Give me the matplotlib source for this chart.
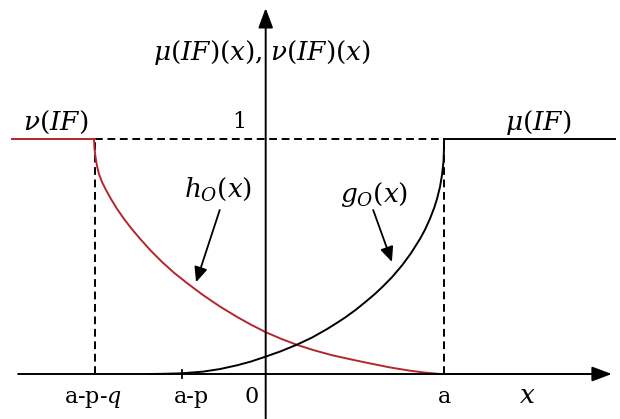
import matplotlib
matplotlib.use('Agg')
import matplotlib.pyplot as plt

plt.rcParams['mathtext.fontset'] = 'dejavuserif'
plt.rcParams['font.family'] = 'DejaVu Serif'

# --- key points on the x axis ---
x_apq = -3.83   # a-p-q
x_ap = -1.88    # a-p
x_a = 4.0       # a

# nu(IF): non-membership, h_O(x) branch between a-p-q and a
h_x = [-3.850, -3.839, -3.816, -3.782, -3.738, -3.670, -3.581, -3.469,
       -3.334, -3.177, -2.998, -2.796, -2.572, -2.325, -2.056, -1.765,
       -1.406, -1.025, -0.643, -0.330, 0.0, 0.343, 0.702, 1.083, 1.487,
       1.890, 2.339, 2.787, 3.235, 3.572, 3.908, 4.0]
h_y = [1.000, 0.962, 0.923, 0.885, 0.851, 0.817, 0.783, 0.745,
       0.703, 0.660, 0.616, 0.571, 0.524, 0.477, 0.431, 0.387,
       0.336, 0.287, 0.243, 0.210, 0.178, 0.150, 0.124, 0.101, 0.080,
       0.063, 0.045, 0.028, 0.014, 0.006, 0.0, 0.0]

# mu(IF): membership, g_O(x) branch rising up to a
g_x = [-2.594, -2.258, -1.877, -1.406, -1.025, -0.643, -0.330, 0.0, 0.343,
       0.702, 1.038, 1.374, 1.576, 1.778, 2.025, 2.271, 2.451, 2.630, 2.832,
       3.056, 3.258, 3.460, 3.572, 3.684, 3.774, 3.841, 3.908, 3.953, 3.987,
       3.996, 4.0]
g_y = [0.0, 0.001, 0.003, 0.010, 0.021, 0.037, 0.053, 0.074, 0.097,
       0.125, 0.155, 0.191, 0.215, 0.240, 0.274, 0.312, 0.341, 0.373, 0.412,
       0.462, 0.514, 0.575, 0.614, 0.661, 0.705, 0.745, 0.796, 0.847, 0.905,
       0.952, 1.0]

tick_labels = [r'a-p-$q$', 'a-p', '0', 'a']

RED = '#b3262d'

fig = plt.figure(figsize=(6.2, 4.19), dpi=100)
ax = fig.add_axes([0, 0, 1, 1])
ax.set_xlim(-5.957, 7.944)
ax.set_ylim(-0.1915, 1.5915)
ax.axis('off')

# coordinate axes with filled arrow heads
ax.annotate('', xy=(7.76, 0), xytext=(-5.55, 0),
            arrowprops=dict(arrowstyle='-|>,head_length=1.2,head_width=0.45',
                            color='k', lw=1.4, shrinkA=0, shrinkB=0))
ax.annotate('', xy=(0, 1.557), xytext=(0, -0.19),
            arrowprops=dict(arrowstyle='-|>,head_length=1.2,head_width=0.45',
                            color='k', lw=1.4, shrinkA=0, shrinkB=0))

# dashed guides at level 1 and at a-p-q, a
dash = (0, (4.0, 2.4))
ax.plot([x_apq, x_a], [1, 1], color='k', lw=1.4, ls=dash)
ax.plot([x_apq, x_apq], [0, 1], color='k', lw=1.4, ls=dash)
ax.plot([x_a, x_a], [0, 1], color='k', lw=1.4, ls=dash)

# small tick at a-p
ax.plot([x_ap, x_ap], [-0.017, 0.017], color='k', lw=1.3)

# nu(IF)
ax.plot([-5.69, x_apq], [1, 1], color=RED, lw=1.4)
ax.plot(h_x, h_y, color=RED, lw=1.4)
ax.plot([x_a, 7.34], [0, 0], color=RED, lw=1.4)

# mu(IF)
ax.plot(g_x, g_y, color='k', lw=1.4)
ax.plot([x_a, 7.83], [1, 1], color='k', lw=1.4)

# labels
fm = 19
ax.text(-0.06, 1.37, r'$\mu(IF)(x),$', fontsize=fm, ha='right', va='center')
ax.text(0.10, 1.37, r'$\nu(IF)(x)$', fontsize=fm, ha='left', va='center')
ax.text(-4.70, 1.072, r'$\nu(IF)$', fontsize=fm, ha='center', va='center')
ax.text(-0.58, 1.072, '1', fontsize=16, ha='center', va='center')
ax.text(6.11, 1.072, r'$\mu(IF)$', fontsize=fm, ha='center', va='center')
ax.text(-1.07, 0.787, r'$h_O(x)$', fontsize=fm, ha='center', va='center')
ax.text(2.43, 0.762, r'$g_O(x)$', fontsize=fm, ha='center', va='center')

label_x = [-3.87, -1.67, -0.31, 4.0]
for lx, lab in zip(label_x, tick_labels):
    ax.text(lx, -0.123, lab, fontsize=16, ha='center', va='baseline')
ax.text(5.86, -0.123, r'$x$', fontsize=fm, ha='center', va='baseline')

# pointers from the labels to the curves
head = '-|>,head_length=0.9,head_width=0.4'
ax.annotate('', xy=(-1.56, 0.391), xytext=(-1.03, 0.698),
            arrowprops=dict(arrowstyle=head, color='k', lw=1.3, shrinkA=0, shrinkB=0))
ax.annotate('', xy=(2.83, 0.477), xytext=(2.41, 0.698),
            arrowprops=dict(arrowstyle=head, color='k', lw=1.3, shrinkA=0, shrinkB=0))

fig.savefig('out.png', dpi=100)
